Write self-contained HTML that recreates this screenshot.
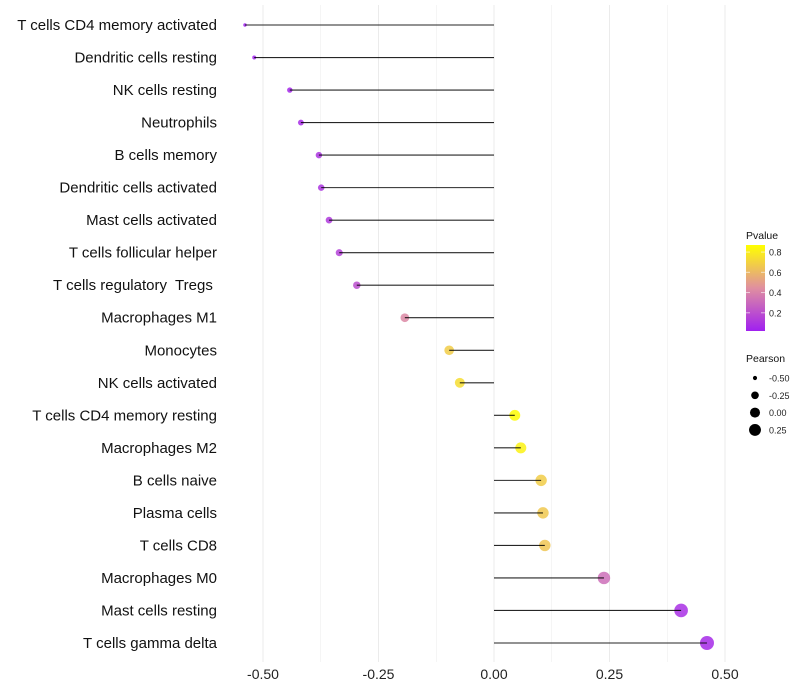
<!DOCTYPE html>
<html><head><meta charset="utf-8"><style>
body{margin:0;background:#fff}
svg{display:block;font-family:"Liberation Sans",sans-serif}
</style></head><body>
<svg id="c" width="800" height="700"></svg>
<script>
const categories=["T cells CD4 memory activated","Dendritic cells resting","NK cells resting","Neutrophils","B cells memory","Dendritic cells activated","Mast cells activated","T cells follicular helper","T cells regulatory  Tregs ","Macrophages M1","Monocytes","NK cells activated","T cells CD4 memory resting","Macrophages M2","B cells naive","Plasma cells","T cells CD8","Macrophages M0","Mast cells resting","T cells gamma delta"];
const pearson=[-0.539,-0.519,-0.442,-0.418,-0.379,-0.374,-0.357,-0.335,-0.297,-0.193,-0.097,-0.074,0.045,0.058,0.102,0.106,0.110,0.238,0.405,0.461];
const pvalues=[0.02,0.03,0.05,0.07,0.10,0.10,0.12,0.15,0.20,0.42,0.68,0.74,0.86,0.82,0.68,0.66,0.65,0.32,0.08,0.06];
const xTicks=[-0.5,-0.25,0,0.25,0.5];
const xTickLabels=["-0.50","-0.25","0.00","0.25","0.50"];
const pTicks=[0.2,0.4,0.6,0.8];
const sizeTicks=[-0.5,-0.25,0,0.25];
const sizeTickLabels=["-0.50","-0.25","0.00","0.25"];

const NS="http://www.w3.org/2000/svg",svg=document.getElementById('c');
function el(t,a,p){const e=document.createElementNS(NS,t);for(const k in a)e.setAttribute(k,a[k]);(p||svg).appendChild(e);return e;}
const x=v=>494+v*462;
const y=i=>25+i*(618/(categories.length-1));
const rr=v=>Math.sqrt(2.9+Math.max(0,v+0.54)*46);
const pMin=0.02,pMax=0.87;
function col(p){let t=Math.max(0,Math.min(1,(p-pMin)/(pMax-pMin)));
 const s=[[160,32,240],[224,143,160],[255,255,0]];let a,b,u;
 if(t<0.5){a=s[0];b=s[1];u=t/0.5}else{a=s[1];b=s[2];u=(t-0.5)/0.5}
 return `rgb(${a.map((c,i)=>Math.round(c+(b[i]-c)*u)).join(',')})`;}
// grid
for(let k=-4;k<=4;k++){const v=k*0.125;const g=el('line',{x1:x(v),x2:x(v),y1:5,y2:662,stroke:'#ebebeb','stroke-width':k%2===0?1:0.5});
}
xTicks.forEach((v,i)=>{const t=el('text',{x:x(v),y:679,'text-anchor':'middle','font-size':14,fill:'#222'});t.textContent=xTickLabels[i];
});
categories.forEach((c,i)=>{
 const t=el('text',{x:217,y:y(i)+5,'text-anchor':'end','font-size':15,fill:'#111'});t.textContent=c;
 t.style.whiteSpace='pre';
 
 const pt=el('circle',{cx:x(pearson[i]),cy:y(i),r:rr(pearson[i]),fill:col(pvalues[i]),'fill-opacity':0.85});
 
 const ln=el('line',{x1:x(0),x2:x(pearson[i]),y1:y(i),y2:y(i),stroke:'#000','stroke-width':1.1,'stroke-opacity':0.85});
 
});
// color legend
const lt=el('text',{x:746,y:239,'font-size':10.5,fill:'#111'});lt.textContent='Pvalue';

const defs=el('defs',{});const lg=el('linearGradient',{id:'g',x1:0,y1:1,x2:0,y2:0},defs);
for(let k=0;k<=10;k++)el('stop',{offset:k/10,'stop-color':col(pMin+(pMax-pMin)*k/10)},lg);
const bar=el('rect',{x:746,y:245,width:19,height:86,fill:'url(#g)'});

const py=p=>331-(p-pMin)/(pMax-pMin)*86;
pTicks.forEach(p=>{el('line',{x1:746,x2:750,y1:py(p),y2:py(p),stroke:'#fff','stroke-opacity':0.6});el('line',{x1:761,x2:765,y1:py(p),y2:py(p),stroke:'#fff','stroke-opacity':0.6});
 const t=el('text',{x:769,y:py(p)+3.5,'font-size':9,fill:'#222'});t.textContent=p.toFixed(1);
 });
// size legend
const st=el('text',{x:746,y:362,'font-size':10.5,fill:'#111'});st.textContent='Pearson';

sizeTicks.forEach((v,i)=>{const cy=378+i*17.3;
 const c=el('circle',{cx:755,cy:cy,r:rr(v)*0.95,fill:'#000'});
 const t=el('text',{x:769,y:cy+3.5,'font-size':9,fill:'#222'});t.textContent=sizeTickLabels[i];
 });
</script>
</body></html>
